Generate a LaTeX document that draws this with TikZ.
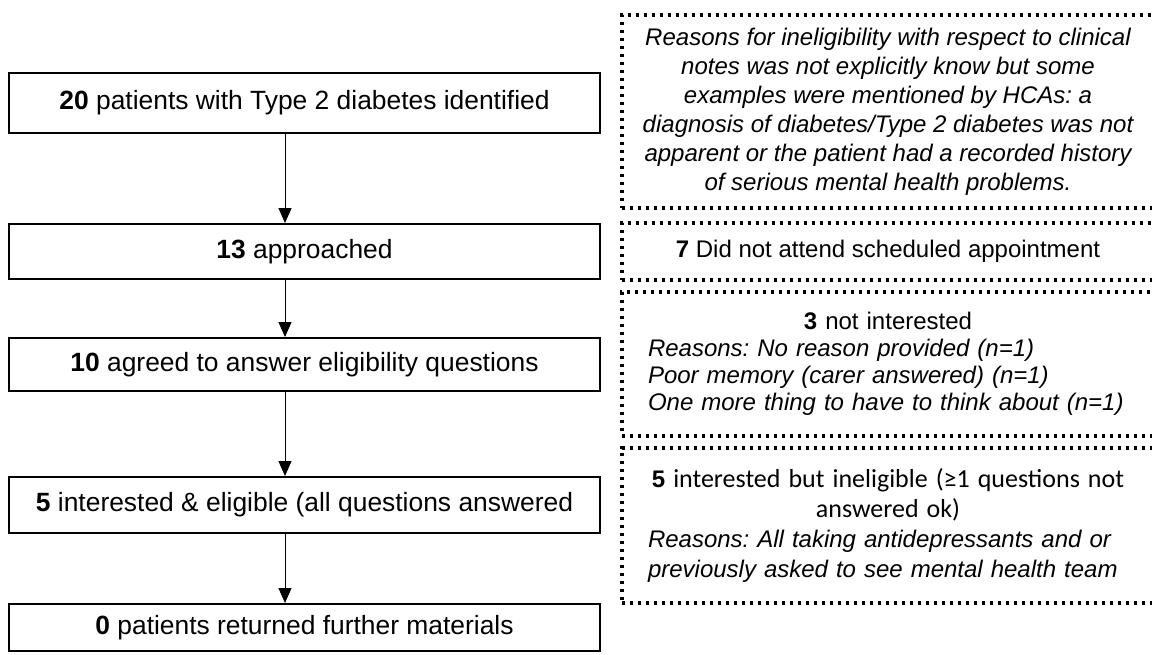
\documentclass[tikz,border=0pt]{standalone}
\usepackage{fontspec}
\setmainfont{Liberation Sans}
\newfontfamily\calfont{Carlito}
\usetikzlibrary{arrows.meta}
\frenchspacing
\begin{document}
\begin{tikzpicture}[x=0.75pt,y=-0.75pt,
  flowbox/.style={draw, line width=1.5pt, inner sep=0pt, minimum width=443.25pt,
    align=center, font=\fontsize{19.8pt}{23pt}\selectfont},
  notebox/.style={draw, line width=2.5pt, line cap=butt, dash pattern=on 2.5pt off 3.5pt,
    inner sep=0pt, minimum width=399pt},
  notefont/.style={font=\fontsize{18pt}{21.75pt}\selectfont},
  notetext/.style={text width=360pt},
  arr/.style={line width=0.75pt, -{Triangle[width=9.75pt,length=11.25pt]}}]
\path[use as bounding box] (0,0) rectangle (1152,654);
\clip (0,0) rectangle (1152,654);

% main flow
\node[flowbox, minimum height=45pt]    (b1) at (304.5,103)   {\textbf{20} patients with Type 2 diabetes identified};
\node[flowbox, minimum height=41.25pt] (b2) at (304.5,251.5) {\textbf{13} approached};
\node[flowbox, minimum height=39.75pt] (b3) at (304.5,364.5) {\textbf{10} agreed to answer eligibility questions};
\node[flowbox, minimum height=42pt]    (b4) at (304.5,505)   {\textbf{5} interested \& eligible (all questions answered};
\node[flowbox, minimum height=35.25pt] (b5) at (304.5,627.5) {\textbf{0} patients returned further materials};

\coordinate (ax) at (285,0);
\draw[arr] (b1.south -| ax) -- (b2.north -| ax);
\draw[arr] (b2.south -| ax) -- (b3.north -| ax);
\draw[arr] (b3.south -| ax) -- (b4.north -| ax);
\draw[arr] (b4.south -| ax) -- (b5.north -| ax);

% side notes
\node[notebox, minimum height=144.75pt, align=center,
      font=\fontsize{18pt}{21.75pt}\selectfont\itshape] (na) at (888,111.5)
  {Reasons for ineligibility with respect to clinical\\
   notes was not explicitly know but some\\
   examples were mentioned by HCAs: a\\
   diagnosis of diabetes/Type 2 diabetes was not\\
   apparent or the patient had a recorded history\\
   of serious mental health problems.};

\node[notebox, minimum height=42.75pt, notefont, align=center] (nb) at (888,251.5)
  {\textbf{7} Did not attend scheduled appointment};

\node[notebox, minimum height=108pt, notetext, align=left,
      font=\fontsize{18pt}{20.25pt}\selectfont] (nc) at (888,364)
  {{\centering\textbf{3} not interested\par}
   \raggedright\itshape Reasons: No reason provided (n=1)\\
   Poor memory (carer answered) (n=1)\\
   One more thing to have to think about (n=1)};

\node[notebox, minimum height=116.25pt, notetext, align=left,
      font=\fontsize{18pt}{22.5pt}\selectfont] (nd) at (888,525.5)
  {{\centering\calfont\fontsize{19.5pt}{22.5pt}\selectfont
    {\rmfamily\bfseries\fontsize{18pt}{22.5pt}\selectfont 5} interested but ineligible (≥1 questions not\\
    answered ok)\par}
   \raggedright\itshape Reasons: All taking antidepressants and or\\
   previously asked to see mental health team};
\end{tikzpicture}
\end{document}
